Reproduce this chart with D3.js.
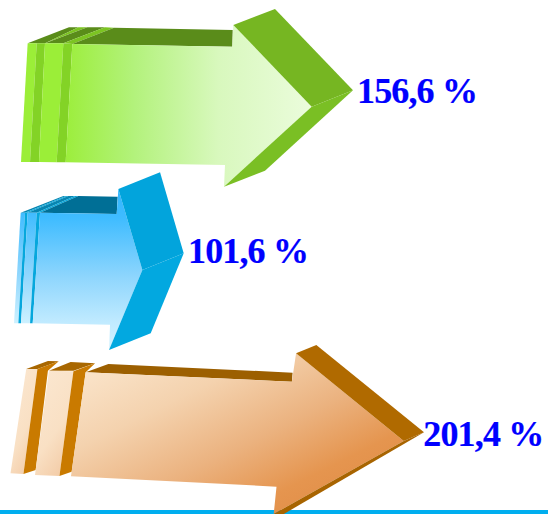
<!DOCTYPE html>
<html><head><meta charset="utf-8">
<script src="https://cdn.jsdelivr.net/npm/d3@7"></script>
<style>html,body{margin:0;padding:0;background:#fff;overflow:hidden}svg{display:block}</style>
</head><body>
<div id="c"></div>
<script>
const categories = ["Xanh", "Lam", "Cam"];
const values = [156.6, 101.6, 201.4];
const labels = ["156,6 %", "101,6 %", "201,4 %"];

const W = 548, H = 514;
const svg = d3.select("#c").append("svg").attr("width", W).attr("height", H);
const defs = svg.append("defs");

// Arrow length is not proportional in the source picture; this piecewise scale reproduces it.
const x = d3.scaleLinear().domain([101.6, 156.6, 201.4]).range([183.7, 353, 424]);
const y = d3.scaleOrdinal().domain(categories).range([90.3, 253.3, 432.3]);

function grad(id, x1, y1, x2, y2, stops) {
  const g = defs.append("linearGradient").attr("id", id)
    .attr("gradientUnits", "objectBoundingBox")
    .attr("x1", x1).attr("y1", y1).attr("x2", x2).attr("y2", y2);
  stops.forEach(s => g.append("stop").attr("offset", s[0]).attr("stop-color", s[1]));
  return `url(#${id})`;
}
const gGreen = grad("gG", 0, 0, 1, 0, [[0, "#9cee3c"], [.28, "#b3f27c"], [.62, "#d8f8bd"], [1, "#ebfcdc"]]);
const gGreenStrip = "#9bee38";
const gBlue = grad("gB", 0, 0, 0, 1, [[0, "#33b6ff"], [.18, "#3fbcff"], [.55, "#8fd6fd"], [.82, "#bfeaff"], [1, "#d4f3ff"]]);
const gBlueS = grad("gBs", 0, 0, 0, 1, [[0, "#3fbcff"], [.55, "#8fd6fd"], [1, "#cdf1ff"]]);
const gOrange = grad("gO", .05, .1, .82, .85, [[0, "#fae4ca"], [.3, "#f4d2ae"], [.62, "#ebb27f"], [.88, "#e5954f"], [1, "#e3904a"]]);
const gOrangeS = grad("gOs", .2, 0, .7, 1, [[0, "#fbe7d0"], [.6, "#f9e0c4"], [1, "#f3cba6"]]);

// Shapes are outlined relative to each arrow's tip, in the units sx, sy per pixel.
const shapes = {
  Xanh: { sx: 3, sy: 3, tip: [1059, 271], polys: [
    [[83,130],[207,82],[235,82],[135,130], "#5a8c1a"],
    [[135,130],[235,82],[262,82],[150,124], "#7cc422"],
    [[135,130],[262,82],[315,82],[190,130], "#5a8c1a"],
    [[190,130],[315,82],[342,83],[217,132], "#7cc422"],
    [[217,132],[342,83],[698,90],[697,140], "#5a8c1a"],
    [[83,130],[110,130],[90,486],[63,486], gGreenStrip],
    [[110,130],[135,130],[117,486],[90,486], "#83d326"],
    [[135,130],[190,130],[170,487],[117,486], gGreenStrip],
    [[190,130],[217,132],[197,487],[170,487], "#83d326"],
    [[217,132],[697,140],[700,75],[935,320],[672,560],[675,495],[197,487], gGreen],
    [[700,75],[825,27],[1059,271],[935,320], "#76b622"],
    [[935,320],[1059,271],[795,512],[672,560], "#7abf24"]
  ]},
  Lam: { sx: 3, sy: 3, tip: [551, 265], polys: [
    [[62,143],[190,93],[198,93],[75,143], "#0785b0"],
    [[75,143],[198,93],[205,93],[83,143], "#07a9de"],
    [[83,143],[205,93],[225,93],[110,143], "#0785b0"],
    [[110,143],[225,93],[235,93],[120,143], "#07a9de"],
    [[120,143],[235,93],[353,95],[350,147], "#006f96"],
    [[62,143],[75,143],[55,475],[42,475], gBlueS],
    [[75,143],[83,143],[63,475],[55,475], "#06a7dd"],
    [[83,143],[110,143],[90,475],[63,475], gBlueS],
    [[110,143],[120,143],[98,475],[90,475], "#06a7dd"],
    [[120,143],[350,147],[355,72],[427,315],[327,555],[330,479],[98,475], gBlue],
    [[355,72],[480,22],[551,265],[427,315], "#02a4dc"],
    [[427,315],[551,265],[452,505],[327,555], "#02a8e0"]
  ]},
  Cam: { sx: 2.861, sy: 3, tip: [1213, 292], polys: [
    [[75,102],[137,78],[168,79],[107,102], "#a86700"],
    [[140,107],[202,81],[272,85],[210,107], "#a86700"],
    [[245,112],[310,87],[837,113],[835,140], "#9c5f00"],
    [[75,102],[107,102],[67,417],[30,415], gOrangeS],
    [[107,102],[168,79],[137,107],[102,405],[67,417], "#c97a00"],
    [[140,107],[210,109],[170,423],[100,420], gOrangeS],
    [[210,109],[272,85],[245,112],[205,410],[170,423], "#c97a00"],
    [[245,112],[835,140],[847,55],[1155,318],[783,537],[791,455],[203,424], gOrange],
    [[847,55],[905,30],[1213,292],[1155,318], "#b06a00"],
    [[1155,318],[1213,292],[812,537],[783,537], "#a86400"]
  ]}
};

// bottom rule
svg.append("rect").attr("x", 0).attr("y", H - 4).attr("width", W).attr("height", 4).attr("fill", "#00aeef");

const rows = categories.map((c, i) => ({ c, v: values[i], label: labels[i] }));
const line = d3.line().curve(d3.curveLinearClosed);

const g = svg.selectAll("g.arrow").data(rows).join("g").attr("class", "arrow")
  .attr("transform", d => `translate(${x(d.v)},${y(d.c)})`);

g.each(function (d) {
  const s = shapes[d.c];
  const el = d3.select(this);
  s.polys.forEach(p => {
    const fill = p[p.length - 1];
    const pts = p.slice(0, -1).map(q => [(q[0] - s.tip[0]) / s.sx, (q[1] - s.tip[1]) / s.sy]);
    el.append("path").attr("d", line(pts)).attr("fill", fill);
  });
});

const dxLabel = { Xanh: 4, Lam: 4.3, Cam: -0.7 };
const dyLabel = { Xanh: 12.7, Lam: 9.7, Cam: 13.7 };
g.append("text")
  .attr("x", d => dxLabel[d.c])
  .attr("y", d => dyLabel[d.c])
  .attr("font-family", "'Liberation Serif', serif")
  .attr("font-weight", "bold")
  .attr("font-size", 36)
  .attr("letter-spacing", -0.85)
  .attr("fill", "#0000ff")
  .attr("stroke", "#0000ff")
  .attr("stroke-width", 0.2)
  .text(d => d.label);
</script>
</body></html>
